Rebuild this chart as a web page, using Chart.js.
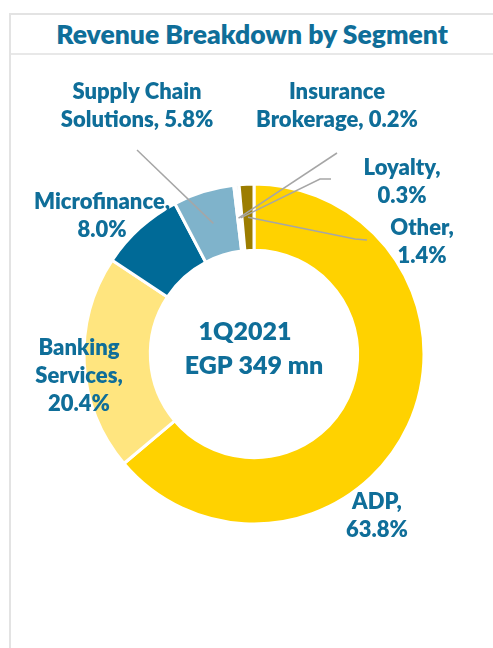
<!DOCTYPE html>
<html>
<head>
<meta charset="utf-8">
<script src="https://cdn.jsdelivr.net/npm/chart.js@4.4.0/dist/chart.umd.min.js"></script>
<style>
  html, body { margin: 0; padding: 0; background: #fff; }
  body { width: 493px; height: 648px; position: relative; overflow: hidden; font-family: Lato, sans-serif; }
  #marco { position: absolute; left: 9px; top: 13px; width: 490px; height: 650px; border-left: 2px solid #e3e3e3; border-top: 2px solid #e3e3e3; box-sizing: border-box; }
  #titulo { position: absolute; left: 11px; top: 15px; width: 482px; height: 38px; border-bottom: 2px solid #e8e8e8; text-align: center; color: #0f6e99; font: 800 26.5px Lato, sans-serif; line-height: 38px; }
  #grafico { position: absolute; left: 0; top: 0; }
</style>
</head>
<body>
<div id="marco"></div>
<div id="titulo">Revenue Breakdown by Segment</div>
<canvas id="grafico" width="493" height="648"></canvas>
<script>
  // datos del grafico
  const segmentos = ['ADP', 'Banking Services', 'Microfinance', 'Supply Chain Solutions', 'Insurance Brokerage', 'Loyalty', 'Other'];
  const porcentajes = [63.8, 20.4, 8.0, 5.8, 0.2, 0.3, 1.4];
  const colores = ['#ffd200', '#ffe57f', '#006a97', '#7fb3cb', '#c9c9c9', '#dcdcdc', '#9c7d00'];
  const textoCentro = ['1Q2021', 'EGP 349 mn'];

  // palabras por linea en cada etiqueta
  const cortes = [[1, 1], [1, 1, 1], [1, 1], [2, 2], [1, 2], [1, 1], [1, 1]];
  // posicion de cada etiqueta (centro de la primera linea)
  const posEtiquetas = [[377, 502], [79, 348], [102, 202], [137, 92], [337, 92], [402, 168], [422, 228]];
  // lineas guia (desde el arco hacia la etiqueta)
  const guias = [null, null, null, [[137, 150]], [[337, 153]], [[320, 179], [331, 179]], [[355, 239], [367, 240]]];
  const posCentro = [[245, 332], [254, 366]];

  const colorTexto = '#0f6e99';
  const altoLinea = 28;

  function lineasEtiqueta(i) {
    const palabras = (segmentos[i] + ', ' + porcentajes[i].toFixed(1) + '%').split(' ');
    const lineas = [];
    let k = 0;
    cortes[i].forEach(n => {
      lineas.push(palabras.slice(k, k + n).join(' '));
      k += n;
    });
    return lineas;
  }

  const pluginEtiquetas = {
    id: 'etiquetas',
    afterDatasetsDraw(chart) {
      const ctx = chart.ctx;
      const meta = chart.getDatasetMeta(0);
      ctx.save();

      // lineas guia
      ctx.strokeStyle = '#a6a6a6';
      ctx.lineWidth = 1.5;
      meta.data.forEach((arco, i) => {
        if (!guias[i]) return;
        const p = arco.getProps(['x', 'y', 'startAngle', 'endAngle', 'innerRadius', 'outerRadius'], true);
        const ang = (p.startAngle + p.endAngle) / 2;
        const r = (p.innerRadius + p.outerRadius) / 2;
        ctx.beginPath();
        ctx.moveTo(p.x + r * Math.cos(ang), p.y + r * Math.sin(ang));
        guias[i].forEach(pt => ctx.lineTo(pt[0], pt[1]));
        ctx.stroke();
      });

      // etiquetas
      ctx.fillStyle = colorTexto;
      ctx.textAlign = 'center';
      ctx.textBaseline = 'middle';
      ctx.font = '800 22px Lato';
      segmentos.forEach((s, i) => {
        lineasEtiqueta(i).forEach((linea, j) => {
          ctx.fillText(linea, posEtiquetas[i][0], posEtiquetas[i][1] + j * altoLinea);
        });
      });

      // texto central
      ctx.font = '800 25px Lato';
      textoCentro.forEach((t, j) => ctx.fillText(t, posCentro[j][0], posCentro[j][1]));
      ctx.restore();
    }
  };

  const ctx = document.getElementById('grafico').getContext('2d');
  const miDona = new Chart(ctx, {
    type: 'doughnut',
    data: {
      labels: segmentos,
      datasets: [{
        data: porcentajes,
        backgroundColor: colores,
        borderColor: '#ffffff',
        borderWidth: 3
      }]
    },
    options: {
      responsive: false,
      animation: false,
      radius: 170,
      cutout: '61%',
      layout: { padding: { left: 15, top: 60 } },
      plugins: {
        legend: { display: false },
        tooltip: { enabled: false }
      }
    },
    plugins: [pluginEtiquetas]
  });
</script>
</body>
</html>
